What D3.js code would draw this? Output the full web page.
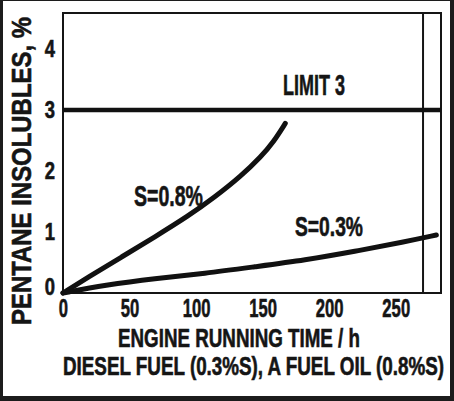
<!DOCTYPE html>
<html>
<head>
<meta charset="utf-8">
<script src="https://cdn.jsdelivr.net/npm/d3@7"></script>
<style>
  html, body { margin: 0; padding: 0; background: #fff; }
  svg { display: block; }
  text { font-family: "Liberation Sans", Arial, sans-serif; font-weight: bold; fill: #151515; stroke: #151515; stroke-width: 0.6px; }
</style>
</head>
<body>
<svg id="chart" width="454" height="401"></svg>
<script>
// ---- data ----
const xTicks = [0, 50, 100, 150, 200, 250];
const yTicks = [0, 1, 2, 3, 4];
const limitValue = 3;
const limitLabel = "LIMIT 3";
const markerHours = 270.5;
const s08Hours  = [0, 19, 44, 69, 94, 114, 134, 149, 158, 167];
const s08Values = [0, 0.26, 0.59, 0.92, 1.26, 1.57, 1.92, 2.24, 2.47, 2.78];
const s03Hours  = [0, 31.5, 69, 106.6, 144, 182, 219, 257, 280.5];
const s03Values = [0, 0.13, 0.24, 0.32, 0.43, 0.54, 0.68, 0.84, 0.95];
const seriesLabels = ["S=0.8%", "S=0.3%"];
const xTitle = "ENGINE RUNNING TIME / h";
const xSubTitle = "DIESEL FUEL (0.3%S), A FUEL OIL (0.8%S)";
const yTitle = "PENTANE INSOLUBLES, %";

// ---- layout ----
const W = 454, H = 401;
const svg = d3.select("#chart");
const x = d3.scaleLinear().domain([0, 284]).range([63, 441]);
const y = d3.scaleLinear().domain([0, 4.59]).range([293, 13]);

function fit(sel, width) {
  sel.each(function() {
    this.setAttribute("textLength", width);
    this.setAttribute("lengthAdjust", "spacingAndGlyphs");
  });
  return sel;
}
function squeeze(sel, factor) {
  sel.each(function() {
    const w = this.getComputedTextLength();
    this.setAttribute("textLength", w * factor);
    this.setAttribute("lengthAdjust", "spacingAndGlyphs");
  });
  return sel;
}

// outer dark border
svg.append("rect").attr("x", 0).attr("y", 0).attr("width", W).attr("height", H).attr("fill", "#1c1c1c");
svg.append("rect").attr("x", 3).attr("y", 1).attr("width", W - 7).attr("height", H - 6).attr("fill", "#fff");

// plot frame
svg.append("rect")
  .attr("x", x(0)).attr("y", y.range()[1])
  .attr("width", x.range()[1] - x(0)).attr("height", y(0) - y.range()[1])
  .attr("fill", "none").attr("stroke", "#151515").attr("stroke-width", 2);

// vertical marker line
svg.append("line")
  .attr("x1", x(markerHours)).attr("x2", x(markerHours))
  .attr("y1", y.range()[1]).attr("y2", y(0))
  .attr("stroke", "#151515").attr("stroke-width", 2);

// limit line
svg.append("line")
  .attr("x1", x(0)).attr("x2", x.range()[1])
  .attr("y1", y(limitValue)).attr("y2", y(limitValue))
  .attr("stroke", "#111").attr("stroke-width", 4.5);

// axes (labels only)
const xAxis = svg.append("g").attr("transform", `translate(0,${y(0)})`)
  .call(d3.axisBottom(x).tickValues(xTicks).tickSize(0).tickPadding(0).tickFormat(d3.format("d")));
xAxis.select(".domain").remove();
xAxis.selectAll("text").attr("font-size", 26).attr("fill", "#151515")
  .attr("y", 24).attr("dy", 0)
  .style("font-family", '"Liberation Sans", Arial, sans-serif').style("font-weight", "bold");
squeeze(xAxis.selectAll("text"), 0.64);

const yAxis = svg.append("g").attr("transform", `translate(${x(0)},0)`)
  .call(d3.axisLeft(y).tickValues(yTicks).tickSize(0).tickPadding(8).tickFormat(d3.format("d")));
yAxis.select(".domain").remove();
yAxis.selectAll("text").attr("font-size", 23).attr("fill", "#151515").attr("dy", "0.34em")
  .style("font-family", '"Liberation Sans", Arial, sans-serif').style("font-weight", "bold");
squeeze(yAxis.selectAll("text"), 0.8);
yAxis.selectAll(".tick").filter(d => d === 0).select("text").attr("dy", "0.08em");

// curves
const line = d3.line().x(d => x(d[0])).y(d => y(d[1])).curve(d3.curveBasis);
const s08 = s08Hours.map((h, i) => [h, s08Values[i]]);
const s03 = s03Hours.map((h, i) => [h, s03Values[i]]);
[s08, s03].forEach(s => {
  svg.append("path").datum(s).attr("d", line)
    .attr("fill", "none").attr("stroke", "#111").attr("stroke-width", 5)
    .attr("stroke-linecap", "round");
});

// in-plot labels
fit(svg.append("text").attr("x", 283).attr("y", 95).attr("font-size", 30).text(limitLabel), 62);
fit(svg.append("text").attr("x", 134).attr("y", 206).attr("font-size", 29).text(seriesLabels[0]), 69);
fit(svg.append("text").attr("x", 295).attr("y", 236).attr("font-size", 27).text(seriesLabels[1]), 68);

// titles
fit(svg.append("text").attr("x", 118).attr("y", 347).attr("font-size", 26).text(xTitle), 242);
fit(svg.append("text").attr("x", 63).attr("y", 375).attr("font-size", 25).text(xSubTitle), 381);
fit(svg.append("text")
  .attr("transform", "translate(31,325) rotate(-90)")
  .attr("x", 0).attr("y", 0).attr("font-size", 28).text(yTitle), 308);
</script>
</body>
</html>
